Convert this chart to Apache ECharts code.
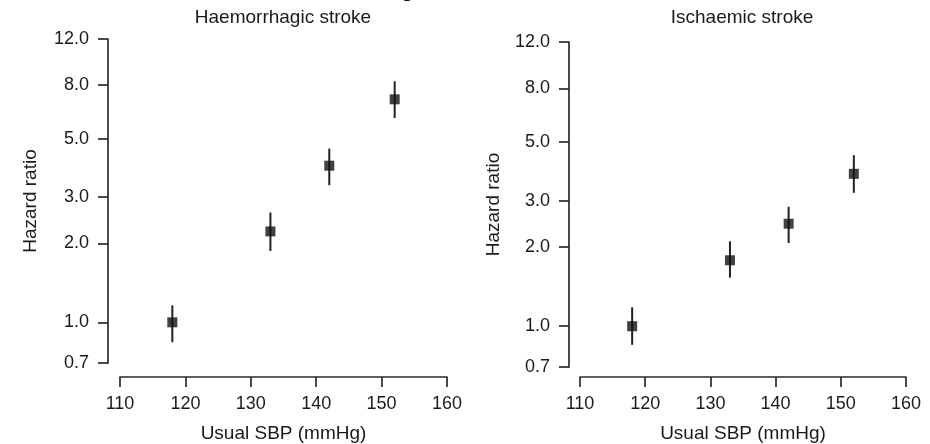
<!DOCTYPE html>
<html>
<head>
<meta charset="utf-8">
<script src="https://cdn.jsdelivr.net/npm/echarts@6/dist/echarts.min.js"></script>
<style>
  html, body { margin: 0; padding: 0; background: #fff; }
  #chart { width: 930px; height: 444px; }
</style>
</head>
<body>
<div id="chart"></div>
<script>
// ---- Data ----
const sbp = [118, 133, 142, 152];
const haemHR = [1.0, 2.22, 3.95, 7.07];
const haemLo = [0.84, 1.87, 3.33, 6.00];
const haemHi = [1.16, 2.62, 4.59, 8.28];
const ischHR = [1.0, 1.78, 2.45, 3.79];
const ischLo = [0.85, 1.53, 2.07, 3.21];
const ischHi = [1.18, 2.10, 2.84, 4.46];
const yTicks = [0.7, 1.0, 2.0, 3.0, 5.0, 8.0, 12.0];
const panelTitles = ['Haemorrhagic stroke', 'Ischaemic stroke'];
const xTitle = 'Usual SBP (mmHg)';
const yTitle = 'Hazard ratio';

const FONT = '"Liberation Sans", Arial, Helvetica, sans-serif';
const TXT = '#1a1a1a';
const LINE = '#2b2b2b';

const chart = echarts.init(document.getElementById('chart'), null, { renderer: 'canvas' });

const grids = [
  { left: 120, top: 39, width: 327, height: 324 },
  { left: 580, top: 42, width: 326, height: 325 }
];
const yOffsets = [12, 11];
const xOffsets = [14, 10];
const yNameGaps = [68, 66];
const xNameGaps = [47, 47];

function xAxisFor(i) {
  return {
    type: 'value', gridIndex: i, min: 110, max: 160, interval: 10,
    offset: xOffsets[i],
    name: xTitle, nameLocation: 'middle', nameGap: xNameGaps[i],
    nameTextStyle: { fontFamily: FONT, fontSize: 19, color: TXT },
    axisLine: { show: true, lineStyle: { color: LINE, width: 1.7 } },
    axisTick: { show: true, inside: false, length: 10, lineStyle: { color: LINE, width: 1.7 } },
    axisLabel: { fontFamily: FONT, fontSize: 18, color: TXT, margin: 18, showMinLabel: true, showMaxLabel: true },
    splitLine: { show: false }
  };
}
function yAxisFor(i) {
  return {
    type: 'log', gridIndex: i, min: 0.7, max: 12, logBase: 10,
    offset: yOffsets[i],
    name: yTitle, nameLocation: 'middle', nameGap: yNameGaps[i], nameRotate: 90,
    nameTextStyle: { fontFamily: FONT, fontSize: 19, color: TXT },
    axisLine: { show: true, lineStyle: { color: LINE, width: 1.7 } },
    axisTick: { show: true, inside: false, length: 10, customValues: yTicks, lineStyle: { color: LINE, width: 1.7 } },
    axisLabel: {
      fontFamily: FONT, fontSize: 18, color: TXT, margin: 19,
      customValues: yTicks,
      formatter: v => Number(v).toFixed(1)
    },
    splitLine: { show: false }
  };
}

function errSeries(i, lo, hi) {
  return {
    type: 'custom', xAxisIndex: i, yAxisIndex: i, z: 2,
    data: sbp.map((x, k) => [x, lo[k], hi[k]]),
    renderItem: (params, api) => {
      const p1 = api.coord([api.value(0), api.value(1)]);
      const p2 = api.coord([api.value(0), api.value(2)]);
      return {
        type: 'line',
        shape: { x1: p1[0], y1: p1[1], x2: p2[0], y2: p2[1] },
        style: { stroke: '#222222', lineWidth: 2 }
      };
    },
    silent: true
  };
}
function ptSeries(i, hr) {
  return {
    type: 'scatter', xAxisIndex: i, yAxisIndex: i, z: 3,
    symbol: 'rect', symbolSize: 10,
    itemStyle: { color: '#111111' },
    data: sbp.map((x, k) => [x, hr[k]]),
    silent: true
  };
}

const option = {
  animation: false,
  backgroundColor: '#ffffff',
  grid: grids.map(g => Object.assign({ containLabel: false, outerBoundsMode: 'none' }, g)),
  xAxis: [xAxisFor(0), xAxisFor(1)],
  yAxis: [yAxisFor(0), yAxisFor(1)],
  graphic: [
    { type: 'text', x: 283, y: 18, style: { text: panelTitles[0], font: '19px ' + FONT, fill: TXT, textAlign: 'center', textVerticalAlign: 'middle' } },
    { type: 'text', x: 742, y: 18, style: { text: panelTitles[1], font: '19px ' + FONT, fill: TXT, textAlign: 'center', textVerticalAlign: 'middle' } },
    { type: 'text', x: 412, y: 2, style: { text: 'y', font: 'bold 34px ' + FONT, fill: '#000', textAlign: 'center', textVerticalAlign: 'bottom' } }
  ],
  series: [
    errSeries(0, haemLo, haemHi), ptSeries(0, haemHR),
    errSeries(1, ischLo, ischHi), ptSeries(1, ischHR)
  ]
};
chart.setOption(option);
</script>
</body>
</html>
